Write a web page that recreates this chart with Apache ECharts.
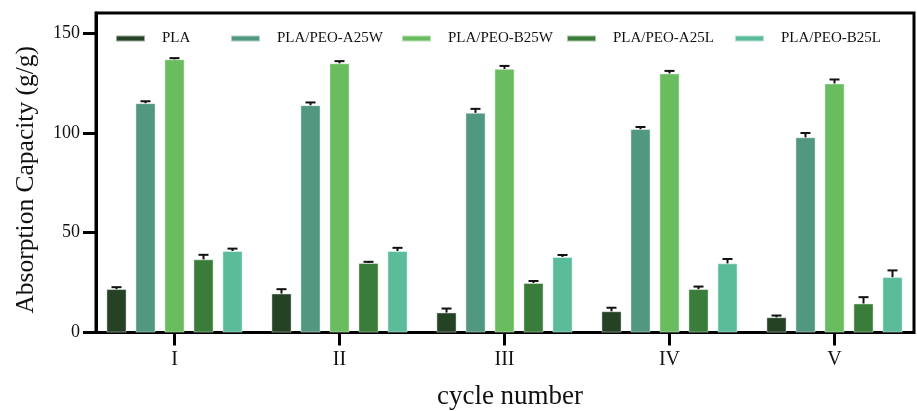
<!DOCTYPE html>
<html>
<head>
<meta charset="utf-8">
<script src="https://cdn.jsdelivr.net/npm/echarts@6/dist/echarts.min.js"></script>
<style>html,body{margin:0;padding:0;background:#fff}#c{width:917px;height:411px}</style>
</head>
<body>
<div id="c"></div>
<script>
const categories = ['I', 'II', 'III', 'IV', 'V'];
const seriesNames = ['PLA', 'PLA/PEO-A25W', 'PLA/PEO-B25W', 'PLA/PEO-A25L', 'PLA/PEO-B25L'];
const PLA = [21.7, 19.5, 10, 10.6, 7.6];
const A25W = [114.8, 113.8, 110, 101.8, 97.7];
const B25W = [136.8, 134.8, 132, 129.7, 124.7];
const A25L = [36.6, 34.8, 24.8, 21.7, 14.5];
const B25L = [40.8, 40.8, 37.8, 34.6, 27.7];
const PLA_err = [1.0, 2.2, 2.0, 1.8, 0.9];
const A25W_err = [1.0, 1.4, 2.0, 1.1, 2.2];
const B25W_err = [0.6, 1.1, 1.5, 1.3, 2.0];
const A25L_err = [2.3, 0.6, 1.0, 1.3, 3.2];
const B25L_err = [1.2, 1.6, 1.0, 2.2, 3.4];
const yTicks = [0, 50, 100, 150];

const values = [PLA, A25W, B25W, A25L, B25L];
const errors = [PLA_err, A25W_err, B25W_err, A25L_err, B25L_err];
const colors = ['#254224', '#52977f', '#6abd5f', '#3a7d3a', '#5bbc9a'];
const legendLeft = [110, 225, 396, 561, 729];
const FONT = 'Liberation Serif';
const BAR_W = 20, BAR_GAP = 9;

const chart = echarts.init(document.getElementById('c'));
const series = [];
values.forEach((vals, i) => {
  series.push({
    name: seriesNames[i], type: 'bar', xAxisIndex: 0, yAxisIndex: 0,
    data: vals, barWidth: BAR_W, barGap: (BAR_GAP / BAR_W * 100) + '%',
    itemStyle: { color: colors[i], borderColor: 'rgba(255,255,255,0.55)', borderWidth: 0.8 },
    z: 2
  });
});
values.forEach((vals, i) => {
  series.push({
    type: 'custom', xAxisIndex: 0, yAxisIndex: 0, z: 3, silent: true,
    data: vals.map((v, k) => [k, v, v + errors[i][k]]),
    renderItem: function (params, api) {
      const off = (i - 2) * (BAR_W + BAR_GAP);
      const p0 = api.coord([api.value(0), api.value(1)]);
      const p1 = api.coord([api.value(0), api.value(2)]);
      const x = p0[0] + off;
      const half = 5;
      return {
        type: 'group',
        children: [
          { type: 'line', shape: { x1: x, y1: p0[1], x2: x, y2: p1[1] }, style: { stroke: '#111', lineWidth: 2 } },
          { type: 'line', shape: { x1: x - half, y1: p1[1], x2: x + half, y2: p1[1] }, style: { stroke: '#111', lineWidth: 2 } }
        ]
      };
    }
  });
});

const legends = seriesNames.map((n, i) => ({
  data: [n], left: legendLeft[i], top: 26, itemWidth: 29, itemHeight: 6,
  icon: 'rect', selectedMode: false,
  textStyle: { fontFamily: FONT, fontSize: 15, color: '#111', padding: [0, 0, 0, 12] }
}));

chart.setOption({
  animation: false,
  backgroundColor: '#fff',
  legend: legends,
  grid: [
    { left: 92, right: 0, top: 13, bottom: 78.5, outerBoundsMode: 'none', containLabel: false },
    { left: 96, right: 3, top: 13, bottom: 78.5, outerBoundsMode: 'none', containLabel: false, show: true, borderColor: '#000', borderWidth: 3, backgroundColor: 'transparent' }
  ],
  xAxis: [
    {
      type: 'category', gridIndex: 0, data: categories,
      axisLine: { show: false },
      axisTick: { show: true, alignWithLabel: true, length: 13, lineStyle: { color: '#000', width: 3 } },
      axisLabel: { fontFamily: FONT, fontSize: 20, color: '#111', margin: 17 },
      name: 'cycle number', nameLocation: 'middle', nameGap: 51,
      nameTextStyle: { fontFamily: FONT, fontSize: 27, color: '#111', padding: [0, 0, 0, 11] }
    },
    { type: 'value', gridIndex: 1, show: false, min: 0, max: 1 }
  ],
  yAxis: [
    { type: 'value', gridIndex: 0, min: 0, max: 160, show: false },
    {
      type: 'value', gridIndex: 1, min: 0, max: 160,
      splitLine: { show: false },
      axisLine: { show: true, lineStyle: { color: '#000', width: 3 } },
      axisTick: { show: true, customValues: yTicks, length: 13, lineStyle: { color: '#000', width: 3 } },
      axisLabel: { customValues: yTicks, fontFamily: FONT, fontSize: 18, color: '#111', margin: 16 },
      name: 'Absorption Capacity (g/g)', nameLocation: 'middle', nameGap: 57, nameRotate: 90,
      nameTextStyle: { fontFamily: FONT, fontSize: 25.5, color: '#111', padding: [0, 14, 0, 0] }
    }
  ],
  series: series
});
</script>
</body>
</html>
